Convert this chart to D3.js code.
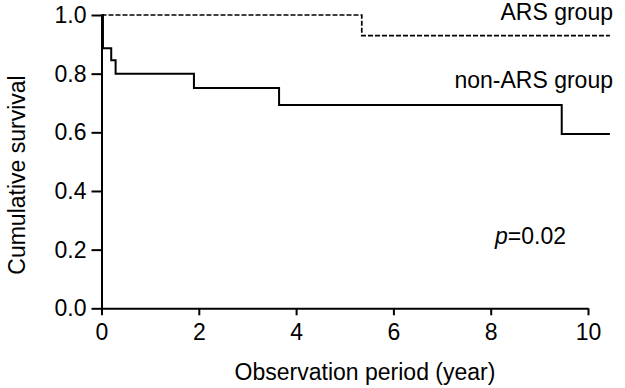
<!DOCTYPE html>
<html>
<head>
<meta charset="utf-8">
<script src="https://cdn.jsdelivr.net/npm/d3@7"></script>
<style>
  body { margin: 0; background: #fff; }
  svg text { font-family: Arial, "Liberation Sans", sans-serif; fill: #000; }
</style>
</head>
<body>
<svg id="chart" width="625" height="388"></svg>
<script>
// Kaplan-Meier steps
const arsTime = [0, 5.35, 10.45];
const arsSurv = [1.0, 0.93, 0.93];

const nonArsTime = [0, 0.03, 0.2, 0.29, 1.9, 3.65, 9.46, 10.45];
const nonArsSurv = [1.0, 0.887, 0.846, 0.80, 0.751, 0.693, 0.594, 0.594];

const xTicks = [0, 2, 4, 6, 8, 10];
const yTicks = [0, 0.2, 0.4, 0.6, 0.8, 1.0];

const svg = d3.select('#chart');

// plot area
const xScale = d3.scaleLinear().domain([0, 10]).range([101.5, 588]);
const yScale = d3.scaleLinear().domain([0, 1]).range([308.3, 15]);

const fontSize = 23;

// y axis
const yAxis = d3.axisLeft(yScale)
    .tickValues(yTicks)
    .tickFormat(d3.format('.1f'))
    .tickSize(10)
    .tickSizeOuter(0)
    .tickPadding(5);

const yAxisG = svg.append('g')
    .attr('transform', `translate(${xScale(0)},0)`)
    .call(yAxis);

// x axis
const xAxis = d3.axisBottom(xScale)
    .tickValues(xTicks)
    .tickSize(7)
    .tickSizeOuter(0)
    .tickPadding(8);

const xAxisG = svg.append('g')
    .attr('transform', `translate(0,${yScale(0)})`)
    .call(xAxis);

[xAxisG, yAxisG].forEach(g => {
    g.select('.domain').attr('stroke', '#000').attr('stroke-width', 2);
    g.selectAll('.tick line').attr('stroke', '#000').attr('stroke-width', 2);
    g.selectAll('.tick text')
        .attr('font-size', fontSize)
        .attr('font-family', 'Arial, "Liberation Sans", sans-serif')
        .attr('fill', '#000');
});

// survival curves
const line = d3.line()
    .x(d => xScale(d[0]))
    .y(d => yScale(d[1]))
    .curve(d3.curveStepAfter);

svg.append('path')
    .datum(d3.zip(arsTime, arsSurv))
    .attr('d', line)
    .attr('fill', 'none')
    .attr('stroke', '#000')
    .attr('stroke-width', 1.7)
    .attr('stroke-dasharray', '5,2');

svg.append('path')
    .datum(d3.zip(nonArsTime, nonArsSurv))
    .attr('d', line)
    .attr('fill', 'none')
    .attr('stroke', '#000')
    .attr('stroke-width', 2);

// group labels
svg.append('text')
    .attr('x', 613)
    .attr('y', 20)
    .attr('text-anchor', 'end')
    .attr('font-size', fontSize)
    .text('ARS group');

svg.append('text')
    .attr('x', 613)
    .attr('y', 88)
    .attr('text-anchor', 'end')
    .attr('font-size', fontSize)
    .text('non-ARS group');

// p value
const pText = svg.append('text')
    .attr('x', 495)
    .attr('y', 244)
    .attr('font-size', fontSize);
pText.append('tspan').attr('font-style', 'italic').text('p');
pText.append('tspan').text('=0.02');

// axis titles
svg.append('text')
    .attr('x', 365)
    .attr('y', 380)
    .attr('text-anchor', 'middle')
    .attr('font-size', fontSize)
    .text('Observation period (year)');

svg.append('text')
    .attr('transform', 'translate(25,175) rotate(-90)')
    .attr('text-anchor', 'middle')
    .attr('font-size', fontSize)
    .text('Cumulative survival');
</script>
</body>
</html>
